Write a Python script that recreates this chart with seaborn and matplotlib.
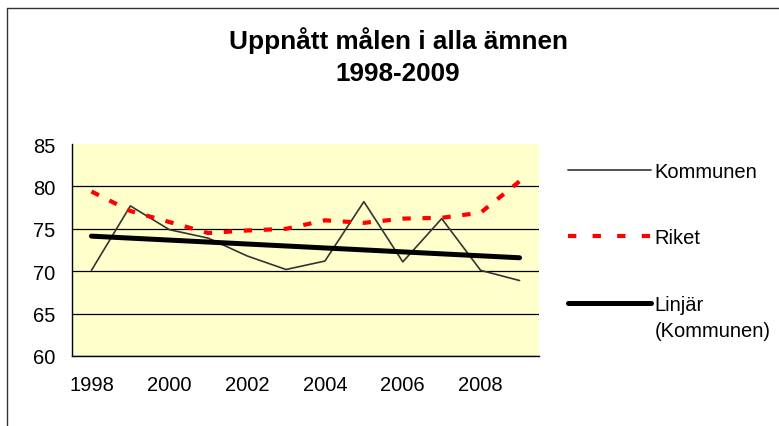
import numpy as np
import pandas as pd
import matplotlib
matplotlib.use("Agg")
import matplotlib.pyplot as plt
from matplotlib.lines import Line2D
import seaborn as sns

years = list(range(1998, 2010))
kommunen = [70.1, 77.7, 74.9, 73.9, 71.8, 70.2, 71.2, 78.2, 71.1, 76.2, 70.1, 68.9]
riket = [79.4, 77.1, 75.8, 74.5, 74.8, 75.0, 76.0, 75.7, 76.2, 76.3, 76.9, 80.6]
y_ticks = [60, 65, 70, 75, 80, 85]
labels = ["Kommunen", "Riket", "Linjär"]
label_extra = "(Kommunen)"
title = "Uppnått målen i alla ämnen\n1998-2009"

df = pd.DataFrame({"pos": np.arange(len(years)), "year": years,
                   "Kommunen": kommunen, "Riket": riket})

sns.set_style("white")
plt.rcParams["font.family"] = ["Liberation Sans", "DejaVu Sans"]
plt.rcParams["text.color"] = "black"

W, H = 779, 427
FS = 14.5
fig = plt.figure(figsize=(W / 100, H / 100), dpi=100)
ax = fig.add_axes([72 / W, 1 - 357 / H, (539 - 72) / W, (357 - 145) / H])
ax.set_facecolor("#FFFFCC")

# series
sns.lineplot(data=df, x="pos", y="Kommunen", color="#333333", lw=1.2, ax=ax, legend=False)
l_kom = ax.lines[-1]
sns.lineplot(data=df, x="pos", y="Riket", color="#FF0000", lw=3, ax=ax, legend=False)
l_rik = ax.lines[-1]
l_rik.set_dashes((2, 2.8))
l_rik.set_dash_capstyle("butt")
# linear trend of Kommunen
sns.regplot(data=df, x="pos", y="Kommunen", scatter=False, ci=None, color="black",
            line_kws={"lw": 3.6, "solid_capstyle": "round"}, ax=ax)
l_lin = ax.lines[-1]

# axes
ax.set_xlim(-0.5, len(years) - 0.5)
ax.set_ylim(y_ticks[0], y_ticks[-1])
ax.set_xticks(df["pos"][::2])
ax.set_xticklabels([str(y) for y in years[::2]])
ax.set_xticks(np.arange(-0.5, len(years), 1), minor=True)
ax.set_yticks(y_ticks)
ax.tick_params(axis="x", which="major", length=0, pad=14, labelsize=FS, colors="black")
ax.tick_params(axis="x", which="minor", length=6, width=1, direction="out", color="black")
ax.tick_params(axis="y", length=6, width=1, direction="out", pad=6, labelsize=FS, colors="black")
ax.set_xlabel("")
ax.set_ylabel("")
ax.yaxis.grid(True, color="black", lw=0.9)
ax.yaxis.get_gridlines()[-1].set_visible(False)
for s in ["top", "right"]:
    ax.spines[s].set_visible(False)
for s in ["left", "bottom"]:
    ax.spines[s].set_color("black")
    ax.spines[s].set_linewidth(1)

# legend (the dashed sample is sparser than on the line, as in the original)
rik_key = Line2D([], [], color="#FF0000", lw=3, dashes=(2, 3.9), dash_capstyle="butt")
ax.legend([l_kom, rik_key, l_lin], labels, loc="upper left",
          bbox_to_anchor=(568 / W, 1 - 163 / H), bbox_transform=fig.transFigure,
          frameon=False, fontsize=FS, handlelength=4.1, handletextpad=0.2,
          labelspacing=2.35, borderpad=0, borderaxespad=0)
fig.text(655 / W, 1 - 332 / H, label_extra, ha="left", va="center", fontsize=FS)

fig.text(398 / W, 1 - 56.5 / H, title, ha="center", va="center", fontsize=18.8,
         fontweight="bold", linespacing=1.4)

# outer chart border
fig.add_artist(Line2D([7 / W, 7 / W], [0, 1 - 9 / H], color="#333333", lw=1))
fig.add_artist(Line2D([7 / W, 1], [1 - 9 / H, 1 - 9 / H], color="#333333", lw=1))

fig.savefig("out.png", dpi=100)
